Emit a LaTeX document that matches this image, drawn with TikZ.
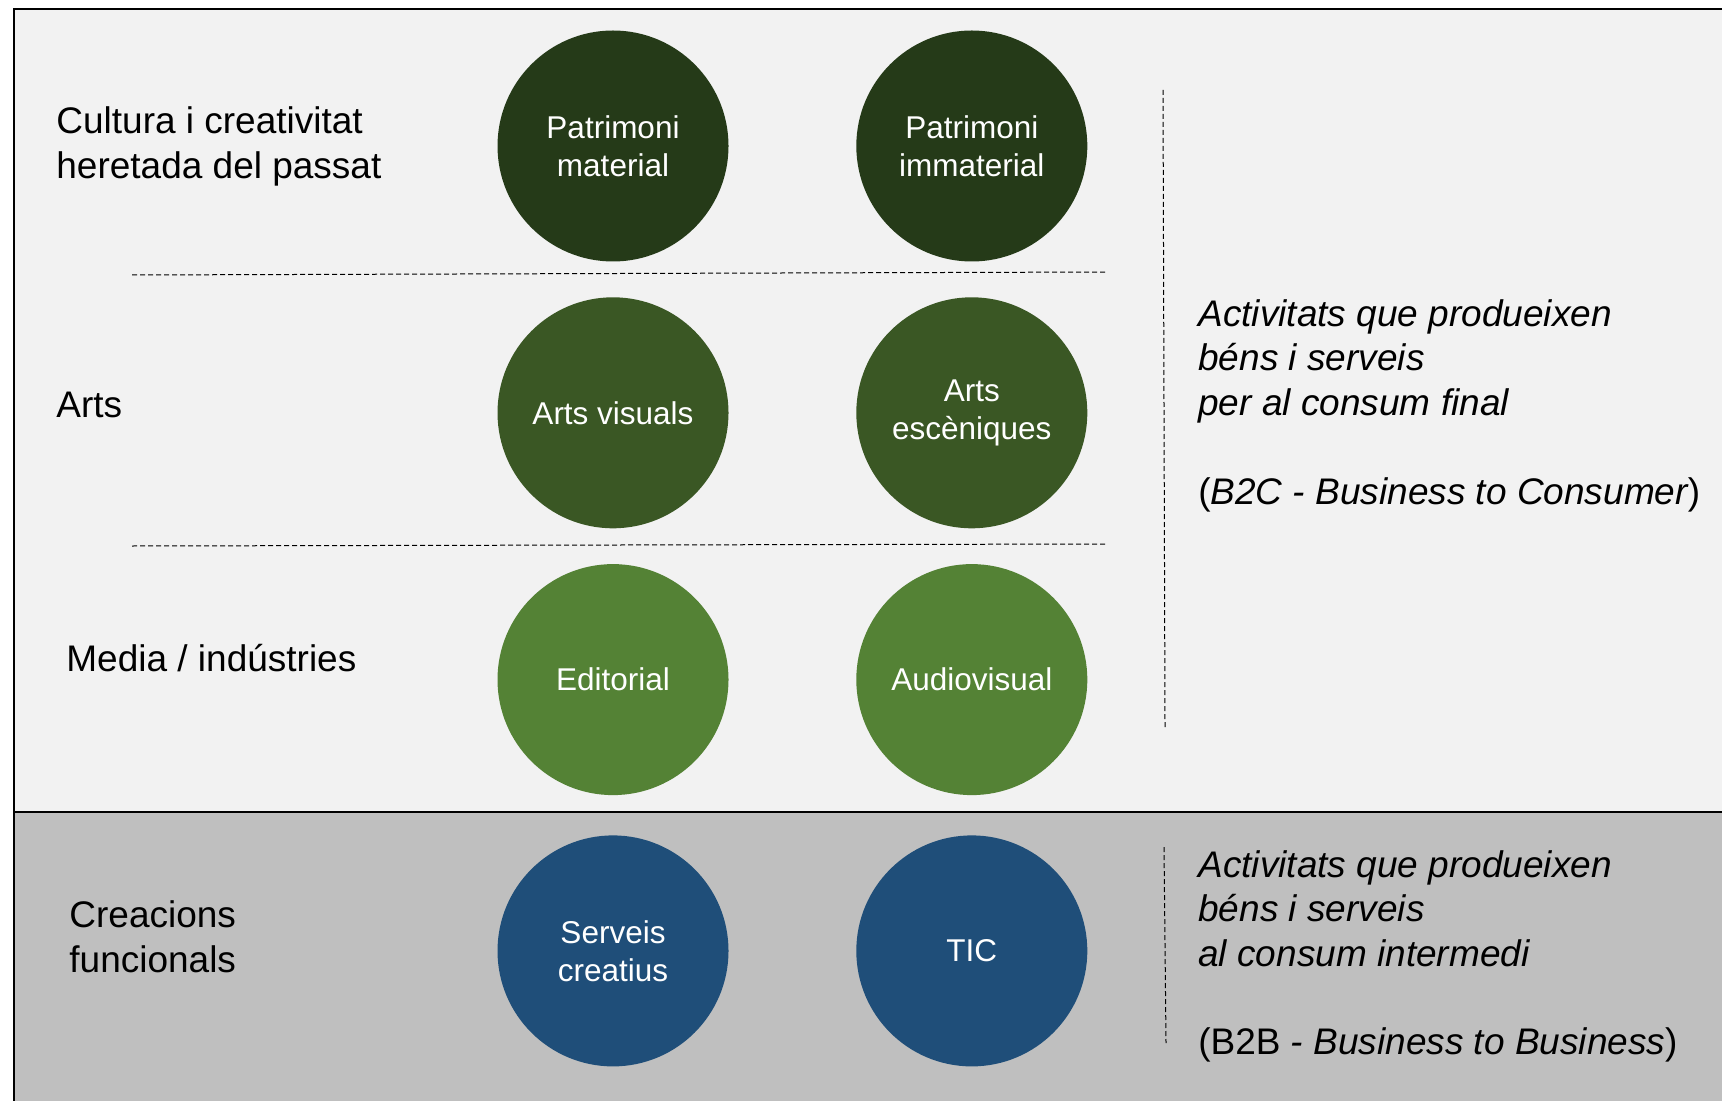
\documentclass[tikz,border=0pt]{standalone}
\usepackage{fontspec}
\setmainfont{Liberation Sans}
\usepackage{tikz}
\usetikzlibrary{positioning}

\definecolor{herit}{HTML}{253A18}
\definecolor{arts}{HTML}{3A5724}
\definecolor{media}{HTML}{548235}
\definecolor{func}{HTML}{1F4E79}
\definecolor{panel}{HTML}{F2F2F2}
\definecolor{panelgray}{HTML}{BFBFBF}

\tikzset{
  sector/.style={circle,minimum size=115.5pt,inner sep=0pt,text=white,align=center,
    font=\fontsize{15.75}{19}\selectfont},
  rowlabel/.style={inner sep=0pt,align=left,font=\fontsize{18.5}{22.5}\selectfont},
  market/.style={inner sep=0pt,align=left,font=\fontsize{18.5}{22.25}\selectfont\itshape},
  divider/.style={line width=0.5pt,dash pattern=on 2.5pt off 1.5pt},
}

\begin{document}
\begin{tikzpicture}[x=0.5pt,y=-0.5pt,node distance=17.5pt and 63.5pt]
    \useasboundingbox (0,0) rectangle (1722,1101);
    % panels and frame
    \fill[panel] (14,9) rectangle (1722,812);
    \fill[panelgray] (14,812) rectangle (1722,1101);
    \draw[line width=1pt] (1722,9) -- (14,9) -- (14,1101);
    \draw[line width=1pt] (14,812) -- (1722,812);

    % set up the circles
    \node[sector,fill=herit] (PM) at (613,146) {Patrimoni\\material};
    \node[sector,fill=herit,right=of PM] (PI) {Patrimoni\\immaterial};
    \node[sector,fill=arts,below=of PM] (AV) {Arts visuals};
    \node[sector,fill=arts,right=of AV] (AE) {Arts\\escèniques};
    \node[sector,fill=media,below=of AV] (ED) {Editorial};
    \node[sector,fill=media,right=of ED] (AU) {Audiovisual};
    \node[sector,fill=func,below=19.75pt of ED] (SC) {Serveis\\creatius};
    \node[sector,fill=func,right=of SC] (TIC) {TIC};

    % row labels on the left
    \node[rowlabel,anchor=west] (herL) at (56,146) {Cultura i creativitat\\heretada del passat};
    \node[rowlabel,anchor=base west] (artL) at (56,417) {Arts};
    \node[rowlabel,anchor=base west] (medL) at (66,671) {Media / indústries};
    \node[rowlabel,anchor=west] (funL) at (69,937) {Creacions\\funcionals};

    % dashed dividers
    \draw[divider] (132,275) -- (1107,272);
    \draw[divider] (132,546) -- (1107,544);
    \draw[divider] (1163,90) -- (1165,728);
    \draw[divider] (1164,847) -- (1166,1043);

    % text on the right
    \node[market,anchor=north west] (B2C) at (1198,299) {Activitats que produeixen\\béns i serveis\\per al consum final\\[22.25pt]{\upshape(}B2C - Business to Consumer{\upshape)}};
    \node[market,anchor=north west] (B2B) at (1198,850) {Activitats que produeixen\\béns i serveis\\al consum intermedi\\[22pt]{\upshape(B2B} - Business to Business{\upshape)}};
\end{tikzpicture}
\end{document}
